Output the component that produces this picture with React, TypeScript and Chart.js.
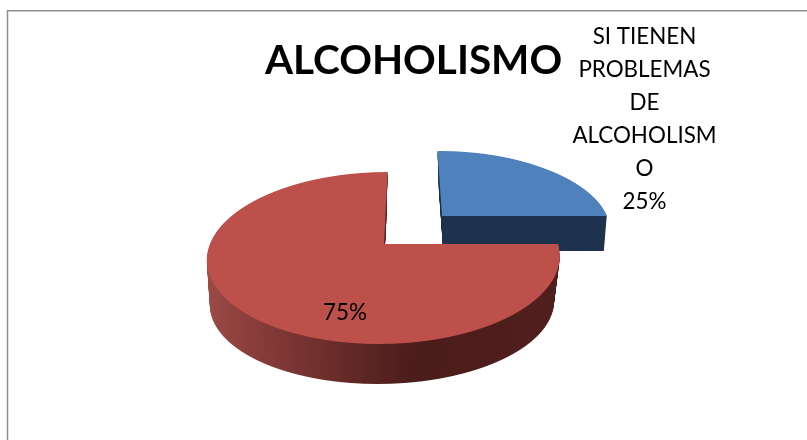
import React, { useEffect, useRef } from "react";
import { Chart, registerables } from "chart.js";

Chart.register(...registerables);

const categories = ["SI TIENEN PROBLEMAS DE ALCOHOLISMO", "NO TIENEN PROBLEMAS DE ALCOHOLISMO"];
const values = [25, 75];
const sliceColors = ["#4F81BD", "#BE504C"];
const titleText = "ALCOHOLISMO";
const blueLabelLines = ["SI TIENEN", "PROBLEMAS", "DE", "ALCOHOLISM", "O", "25%"];
const redLabel = "75%";

const VP_X = 410;
// per slice projective placement of the 3D look
const views = [
  { y0: 216, A: 75.6, b: 0.1628, x0: 32, R0: 165, depth: 35, nx: 0.025, ny: 0.05, dx: 2 },
  { y0: 244, A: 83.7, b: 0.1628, x0: -26, R0: 174, depth: 46, nx: 0.025, ny: 0.06, dx: -2 },
];

function drawWarped(ctx: CanvasRenderingContext2D, arc: any, view: any, t: number, dpr: number) {
  const p = arc.getProps(["x", "y", "outerRadius"], true);
  const r = p.outerRadius;
  const { b, x0, R0, y0 } = view;
  const A = view.A * (1 - view.ny * t);
  const kx = 1 - view.nx * t;
  const shift = view.depth * t;
  const top = Math.floor(y0 + shift - A / (1 + b)) - 1;
  const bottom = Math.ceil(y0 + shift + A / (1 - b)) + 1;
  for (let Y = top; Y < bottom; Y++) {
    const dy = Y + 0.5 - (y0 + shift);
    const v = dy / (A + b * dy);
    if (v < -1.02 || v > 1.02) continue;
    const s = 1 / (1 - b * v);
    const sx = (R0 * kx * s) / r;
    const sy = (A * s * s) / r;
    const e = VP_X + x0 * kx * s + view.dx * t - sx * p.x;
    const f = Y + 0.5 - sy * (p.y + v * r);
    ctx.save();
    ctx.setTransform(dpr, 0, 0, dpr, 0, 0);
    ctx.beginPath();
    ctx.rect(0, Y, 807, 1);
    ctx.clip();
    ctx.transform(sx, 0, 0, sy, e, f);
    arc.draw(ctx);
    ctx.restore();
  }
}

const pie3d = {
  id: "pie3d",
  beforeDatasetsDraw(chart: any) {
    const ctx: CanvasRenderingContext2D = chart.ctx;
    const dpr = chart.currentDevicePixelRatio;
    const meta = chart.getDatasetMeta(0);
    const sideGrad = ctx.createLinearGradient(206, 0, 558, 0);
    sideGrad.addColorStop(0, "#AA524D");
    sideGrad.addColorStop(0.35, "#7E3735");
    sideGrad.addColorStop(0.68, "#4A1C1A");
    sideGrad.addColorStop(1, "#501F1D");
    const sideFill: any[] = ["#1E324E", sideGrad];
    meta.data.forEach((arc: any, i: number) => {
      const top = arc.options;
      arc.options = { ...top, backgroundColor: sideFill[i], borderWidth: 0 };
      for (let d = views[i].depth; d >= 1; d -= 1) {
        drawWarped(ctx, arc, views[i], d / views[i].depth, dpr);
      }
      arc.options = { ...top, borderWidth: 0 };
      drawWarped(ctx, arc, views[i], 0, dpr);
      arc.options = top;
    });
    return false;
  },
  afterDraw(chart: any) {
    const ctx: CanvasRenderingContext2D = chart.ctx;
    ctx.save();
    // frame: top and left edges
    ctx.strokeStyle = "#8E8E8E";
    ctx.lineWidth = 1.5;
    ctx.beginPath();
    ctx.moveTo(7.5, 440);
    ctx.lineTo(7.5, 10.75);
    ctx.lineTo(807, 10.75);
    ctx.stroke();
    ctx.fillStyle = "#000";
    ctx.textAlign = "center";
    ctx.textBaseline = "middle";
    ctx.font = "22.4px Lato";
    const ys = [37, 70, 103, 136, 169, 202];
    blueLabelLines.forEach((line, i) => ctx.fillText(line, 644.5, ys[i]));
    ctx.fillText(redLabel, 345, 313);
    ctx.restore();
  },
};

export default function App() {
  const ref = useRef<HTMLCanvasElement>(null);
  useEffect(() => {
    const chart = new Chart(ref.current!, {
      type: "pie",
      data: {
        labels: categories,
        datasets: [{ data: values, backgroundColor: sliceColors, borderWidth: 0 }],
      },
      plugins: [pie3d],
      options: {
        animation: false,
        responsive: false,
        devicePixelRatio: 1,
        layout: { padding: { left: 20, top: 0 } },
        plugins: {
          legend: { display: false },
          tooltip: { enabled: false },
          title: {
            display: true,
            text: titleText,
            color: "#000",
            font: { family: "Lato", size: 40.5, weight: "bold" },
            padding: { top: 37, bottom: 0 },
          },
        },
      },
    } as any);
    return () => chart.destroy();
  }, []);
  return (
    <canvas
      ref={ref}
      width={807}
      height={440}
      style={{ position: "absolute", left: 0, top: 0, width: 807, height: 440 }}
    />
  );
}
